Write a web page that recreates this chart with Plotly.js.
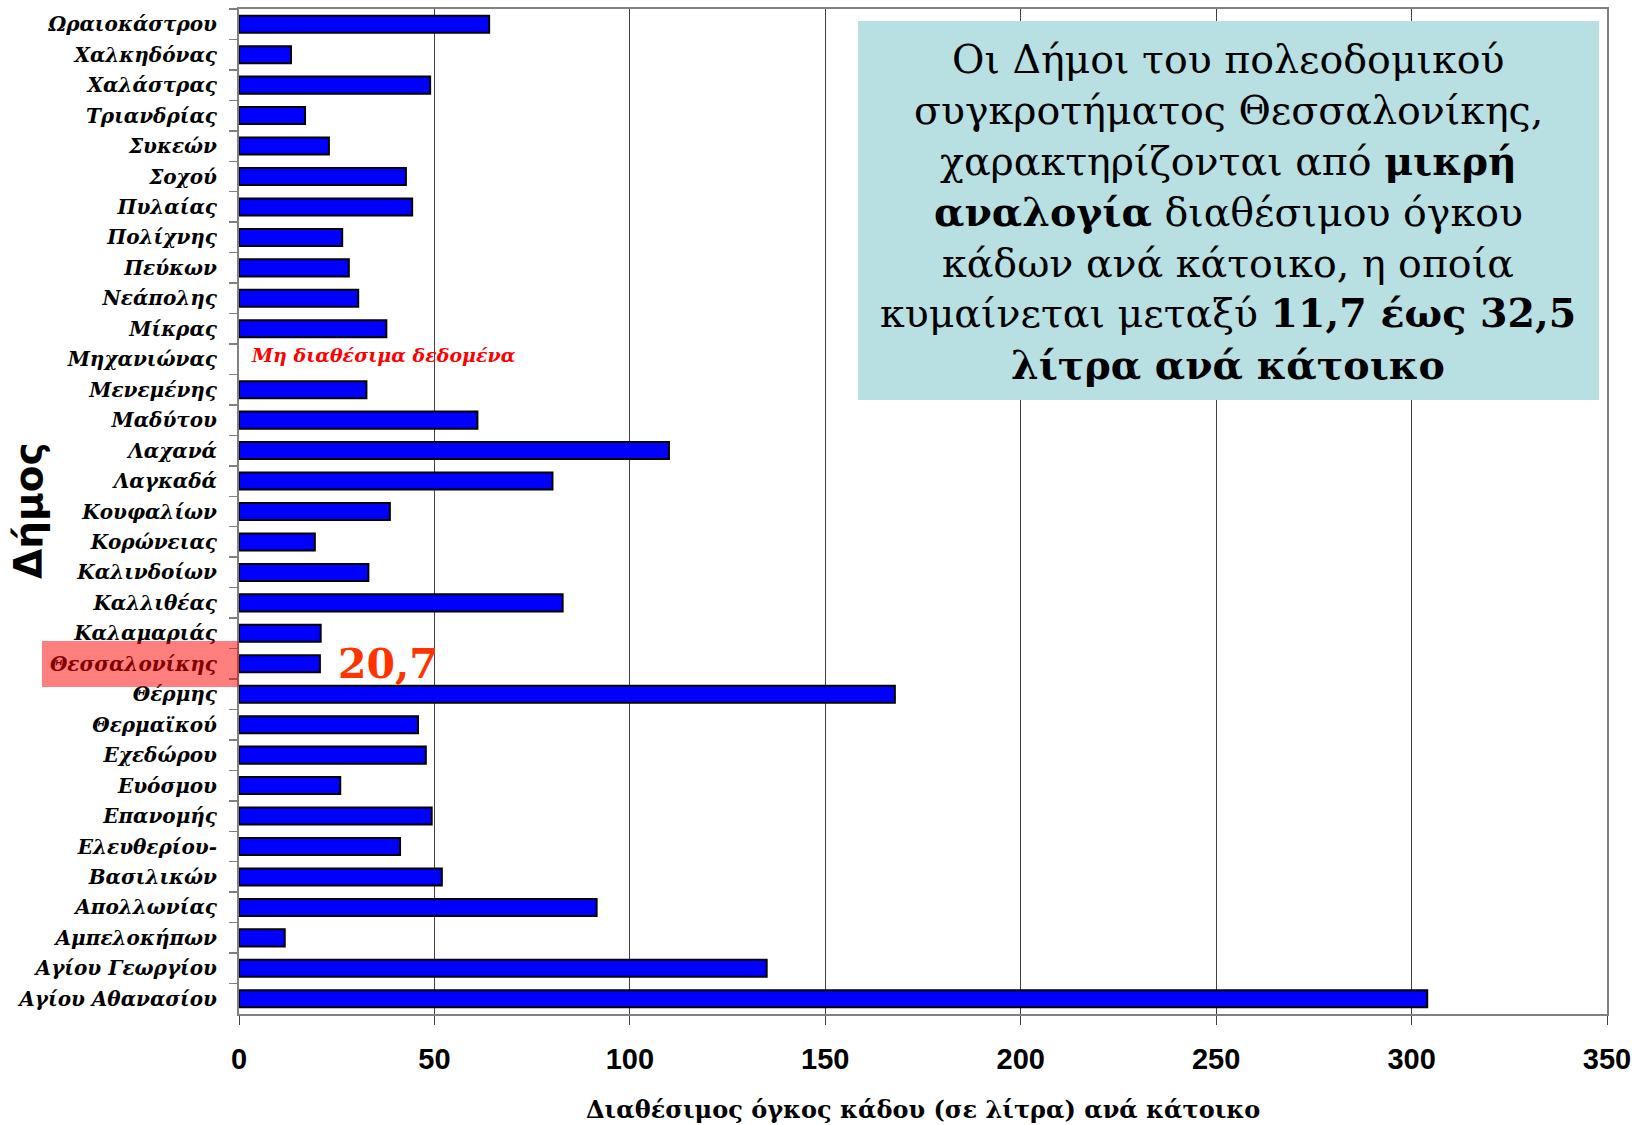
<!DOCTYPE html>
<html>
<head>
<meta charset="utf-8">
<script src="https://cdn.plot.ly/plotly-3.0.1.min.js"></script>
<style>html,body{margin:0;padding:0;background:#fff;}#chart{width:1637px;height:1125px;}</style>
</head>
<body>
<div id="chart"></div>
<script>
// Municipalities, listed top to bottom as in the chart
const municipalities = [
  'Ωραιοκάστρου','Χαλκηδόνας','Χαλάστρας','Τριανδρίας','Συκεών','Σοχού','Πυλαίας','Πολίχνης',
  'Πεύκων','Νεάπολης','Μίκρας','Μηχανιώνας','Μενεμένης','Μαδύτου','Λαχανά','Λαγκαδά',
  'Κουφαλίων','Κορώνειας','Καλινδοίων','Καλλιθέας','Καλαμαριάς','Θεσσαλονίκης','Θέρμης','Θερμαϊκού',
  'Εχεδώρου','Ευόσμου','Επανομής','Ελευθερίου-','Βασιλικών','Απολλωνίας','Αμπελοκήπων',
  'Αγίου Γεωργίου','Αγίου Αθανασίου'
];
// Litres of bin volume per inhabitant (null = no data)
const litresPerResident = [
  64.0, 13.3, 48.9, 16.9, 23.0, 42.7, 44.3, 26.4,
  28.1, 30.5, 37.7, null, 32.6, 61.0, 110.0, 80.2,
  38.6, 19.4, 33.1, 82.8, 20.9, 20.7, 167.8, 45.8,
  47.8, 25.9, 49.3, 41.2, 51.9, 91.5, 11.7,
  135.0, 304.0
];
const xTickValues = [0, 50, 100, 150, 200, 250, 300, 350];
const xTitle = 'Διαθέσιμος όγκος κάδου (σε λίτρα) ανά κάτοικο';
const yTitle = 'Δήμος';
const noDataLabel = 'Μη διαθέσιμα δεδομένα';
const noDataCategory = 'Μηχανιώνας';
const highlightCategory = 'Θεσσαλονίκης';
const highlightValueText = '20,7';
const boxLines = [
  'Οι Δήμοι του πολεοδομικού',
  'συγκροτήματος Θεσσαλονίκης,',
  'χαρακτηρίζονται από <b>μικρή</b>',
  '<b>αναλογία</b> διαθέσιμου όγκου',
  'κάδων ανά κάτοικο, η οποία',
  'κυμαίνεται μεταξύ <b>11,7 έως 32,5</b>',
  '<b>λίτρα ανά κάτοικο</b>'
];

// Layout geometry (pixels)
const W = 1637, H = 1125;
const plotL = 239, plotR = 1607, plotT = 9, plotB = 1014;
const pw = plotR - plotL, ph = plotB - plotT;
const px2x = p => (p - plotL) / pw;
const py2y = p => 1 - (p - plotT) / ph;

const hiIdx = municipalities.indexOf(highlightCategory);

const annotations = [];
annotations.push({
  xref: 'paper', yref: 'paper', x: px2x(28), y: py2y(511), text: '<b>' + yTitle + '</b>',
  textangle: -90, showarrow: false, xanchor: 'center', yanchor: 'middle',
  font: {family: 'DejaVu Sans', size: 39, color: '#000'}
});
annotations.push({
  xref: 'paper', yref: 'paper', x: 0.5, y: py2y(1109), text: '<b>' + xTitle + '</b>',
  showarrow: false, xanchor: 'center', yanchor: 'middle',
  font: {family: 'DejaVu Serif', size: 24, color: '#000'}
});
annotations.push({
  xref: 'x', yref: 'y', x: 2.5, y: noDataCategory, yshift: 4, text: '<b><i>' + noDataLabel + '</i></b>',
  showarrow: false, xanchor: 'left', yanchor: 'middle',
  font: {family: 'DejaVu Serif', size: 19, color: '#FF0000'}
});
annotations.push({
  xref: 'paper', yref: 'y', x: px2x(388), y: highlightCategory, text: '<b>' + highlightValueText + '</b>',
  showarrow: false, xanchor: 'center', yanchor: 'middle',
  font: {family: 'DejaVu Serif', size: 41, color: '#FF3300'}
});
const lineYs = [59.5, 109.6, 160.8, 212, 263, 313, 365];
boxLines.forEach((t, i) => {
  annotations.push({
    xref: 'paper', yref: 'paper', x: px2x(1228), y: py2y(lineYs[i]), text: t,
    showarrow: false, xanchor: 'center', yanchor: 'middle',
    font: {family: 'DejaVu Serif', size: 39.5, color: '#000'}
  });
});

const shapes = [
  {type: 'rect', xref: 'paper', yref: 'paper', x0: px2x(858), x1: px2x(1599), y0: py2y(400), y1: py2y(21),
   fillcolor: '#B8DFE2', line: {width: 0}, layer: 'above'},
  {type: 'rect', xref: 'paper', yref: 'y', x0: px2x(42), x1: 0, y0: hiIdx - 0.75, y1: hiIdx + 0.76,
   fillcolor: 'rgba(255,0,0,0.5)', line: {width: 0}, layer: 'above'}
];

const trace = {
  type: 'bar', orientation: 'h', y: municipalities, x: litresPerResident,
  marker: {color: '#0000FF', line: {color: '#000000', width: 2}},
  width: 0.56, hoverinfo: 'x+y'
};

const layout = {
  width: W, height: H,
  margin: {l: plotL, r: W - plotR, t: plotT, b: H - plotB, pad: 0},
  paper_bgcolor: '#fff', plot_bgcolor: '#fff',
  showlegend: false,
  bargap: 0.44,
  xaxis: {
    range: [0, 350], tickvals: xTickValues, ticktext: xTickValues.map(String),
    showgrid: true, gridcolor: '#404040', gridwidth: 1, zeroline: false,
    showline: true, linecolor: '#808080', linewidth: 2, mirror: true,
    ticks: 'outside', ticklen: 9, tickcolor: '#404040', tickwidth: 1,
    tickfont: {family: 'Liberation Sans', size: 29, color: '#000', weight: 'bold'},
    ticklabelstandoff: 9, fixedrange: true
  },
  yaxis: {
    type: 'category', categoryorder: 'array', categoryarray: municipalities,
    range: [municipalities.length - 0.5, -0.5],
    showgrid: false, zeroline: false,
    showline: true, linecolor: '#808080', linewidth: 2, mirror: true,
    ticks: 'outside', tickson: 'boundaries', ticklen: 8, tickcolor: '#808080', tickwidth: 1.5,
    tickfont: {family: 'DejaVu Serif', size: 20, color: '#000', weight: 'bold', style: 'italic'},
    ticklabelstandoff: 16, fixedrange: true
  },
  annotations: annotations,
  shapes: shapes
};

Plotly.newPlot('chart', [trace], layout, {displayModeBar: false, staticPlot: true});
</script>
</body>
</html>
